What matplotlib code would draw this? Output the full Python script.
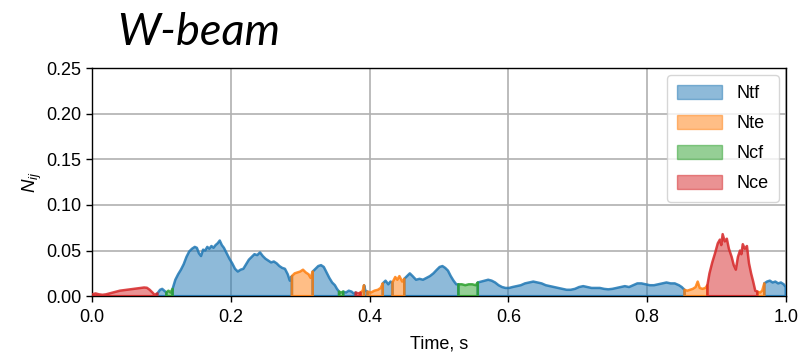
import numpy as np
import matplotlib
matplotlib.use("Agg")
import matplotlib.pyplot as plt
from matplotlib.patches import Patch

plt.rcParams["font.family"] = ["Liberation Sans", "DejaVu Sans"]
plt.rcParams["mathtext.fontset"] = "custom"
plt.rcParams["mathtext.rm"] = "Liberation Sans"
plt.rcParams["mathtext.it"] = "Liberation Sans:italic"

# Nij envelope over time; mode marks which criterion governs at each sample
time = [
    0.000, 0.005, 0.010, 0.015, 0.020, 0.025, 0.030, 0.035, 0.040, 0.045,
    0.050, 0.055, 0.060, 0.065, 0.070, 0.075, 0.079, 0.083, 0.087, 0.090,
    0.094, 0.098, 0.101, 0.104,
    0.107, 0.110, 0.113,
    0.116, 0.120, 0.124, 0.128, 0.132, 0.136, 0.140, 0.144, 0.148, 0.151,
    0.154, 0.157, 0.160, 0.163, 0.166, 0.169, 0.172, 0.175, 0.178, 0.181,
    0.184, 0.187, 0.190, 0.194, 0.198, 0.202, 0.206, 0.210, 0.214, 0.218,
    0.222, 0.226, 0.230, 0.234, 0.238, 0.242, 0.246, 0.250, 0.254, 0.258,
    0.262, 0.266, 0.270, 0.274, 0.278, 0.282, 0.285,
    0.288, 0.292, 0.296, 0.300, 0.304, 0.308, 0.312, 0.315,
    0.318, 0.322, 0.326, 0.330, 0.334, 0.338, 0.342, 0.346, 0.350, 0.353,
    0.356, 0.359,
    0.362, 0.366, 0.370, 0.374, 0.377,
    0.380, 0.384,
    0.387, 0.390,
    0.392, 0.394,
    0.397, 0.402, 0.407, 0.412, 0.416,
    0.419, 0.423, 0.427, 0.430,
    0.433, 0.437, 0.440, 0.443, 0.447,
    0.450, 0.454, 0.458, 0.462, 0.467, 0.472, 0.477, 0.482, 0.487, 0.492,
    0.497, 0.501, 0.505, 0.509, 0.513, 0.517, 0.521, 0.525,
    0.528, 0.533, 0.538, 0.543, 0.548, 0.553,
    0.556, 0.561, 0.566, 0.571, 0.576, 0.581, 0.586, 0.591, 0.596, 0.601,
    0.606, 0.612, 0.618, 0.624, 0.630, 0.636, 0.642, 0.648, 0.654, 0.660,
    0.666, 0.672, 0.678, 0.684, 0.690, 0.696, 0.702, 0.708, 0.714, 0.720,
    0.726, 0.732, 0.738, 0.744, 0.750, 0.756, 0.762, 0.768, 0.774, 0.780,
    0.786, 0.792, 0.798, 0.804, 0.810, 0.816, 0.822, 0.828, 0.834, 0.840,
    0.846, 0.850,
    0.854, 0.858, 0.862, 0.866, 0.870, 0.873, 0.876, 0.880, 0.884,
    0.887, 0.890, 0.894, 0.898, 0.902, 0.905, 0.907, 0.909, 0.912, 0.915,
    0.918, 0.922, 0.925, 0.928, 0.931, 0.934, 0.936, 0.938, 0.941, 0.944,
    0.947, 0.950, 0.953, 0.956,
    0.959, 0.963, 0.966,
    0.969, 0.973, 0.977, 0.981, 0.985, 0.989, 0.993, 0.997, 1.000,
]

nij = [
    0.002, 0.003, 0.002, 0.0015, 0.002, 0.003, 0.004, 0.005, 0.006, 0.0065,
    0.007, 0.0075, 0.008, 0.0085, 0.009, 0.0095, 0.0092, 0.007, 0.004, 0.0015,
    0.003, 0.007, 0.008, 0.006,
    0.004, 0.006, 0.004,
    0.008, 0.018, 0.024, 0.029, 0.035, 0.043, 0.049, 0.052, 0.054, 0.053,
    0.047, 0.044, 0.051, 0.050, 0.054, 0.052, 0.055, 0.053, 0.056, 0.058,
    0.061, 0.056, 0.053, 0.047, 0.041, 0.036, 0.030, 0.027, 0.029, 0.030,
    0.035, 0.040, 0.043, 0.046, 0.045, 0.048, 0.044, 0.041, 0.039, 0.037,
    0.038, 0.036, 0.033, 0.031, 0.030, 0.024, 0.017,
    0.022, 0.025, 0.026, 0.027, 0.029, 0.026, 0.024, 0.020,
    0.027, 0.030, 0.033, 0.034, 0.032, 0.026, 0.020, 0.015, 0.012, 0.008,
    0.005, 0.004,
    0.005, 0.004, 0.006, 0.005, 0.003,
    0.004, 0.003,
    0.004, 0.006,
    0.012, 0.006,
    0.005, 0.004, 0.006, 0.007, 0.009,
    0.014, 0.017, 0.013, 0.016,
    0.015, 0.021, 0.018, 0.022, 0.016,
    0.019, 0.022, 0.025, 0.022, 0.018, 0.019, 0.018, 0.020, 0.022, 0.025,
    0.029, 0.032, 0.033, 0.031, 0.028, 0.022, 0.017, 0.013,
    0.013, 0.013, 0.012, 0.013, 0.013, 0.012,
    0.015, 0.016, 0.017, 0.018, 0.017, 0.015, 0.012, 0.010, 0.009, 0.009,
    0.010, 0.011, 0.012, 0.014, 0.015, 0.016, 0.015, 0.014, 0.012, 0.011,
    0.010, 0.009, 0.008, 0.007, 0.007, 0.008, 0.010, 0.011, 0.010, 0.009,
    0.009, 0.009, 0.008, 0.0075, 0.008, 0.009, 0.010, 0.011, 0.010, 0.012,
    0.014, 0.014, 0.013, 0.012, 0.012, 0.013, 0.014, 0.015, 0.014, 0.014,
    0.012, 0.010,
    0.007, 0.006, 0.007, 0.008, 0.010, 0.016, 0.009, 0.008, 0.009,
    0.012, 0.025, 0.037, 0.047, 0.058, 0.062, 0.056, 0.068, 0.060, 0.063,
    0.052, 0.043, 0.034, 0.029, 0.043, 0.050, 0.046, 0.057, 0.052, 0.055,
    0.036, 0.025, 0.016, 0.006,
    0.005, 0.004, 0.006,
    0.014, 0.016, 0.017, 0.015, 0.016, 0.014, 0.015, 0.013, 0.010,
]

mode = (
    ["Nce"] * 20 + ["Ntf"] * 4 + ["Ncf"] * 3 + ["Ntf"] * 47 + ["Nte"] * 8
    + ["Ntf"] * 10 + ["Ncf"] * 2 + ["Ntf"] * 5 + ["Nce"] * 2 + ["Nte"] * 2
    + ["Ntf"] * 2 + ["Nte"] * 5 + ["Ntf"] * 4 + ["Nte"] * 5 + ["Ntf"] * 18
    + ["Ncf"] * 6 + ["Ntf"] * 52 + ["Nte"] * 9 + ["Nce"] * 24 + ["Nte"] * 3
    + ["Ntf"] * 9
)

criteria = ["Ntf", "Nte", "Ncf", "Nce"]
colors = ["#1f77b4", "#ff7f0e", "#2ca02c", "#d62728"]

xticks = [0.0, 0.2, 0.4, 0.6, 0.8, 1.0]
yticks = [0.00, 0.05, 0.10, 0.15, 0.20, 0.25]

t = np.asarray(time)
v = np.asarray(nij)
m = np.asarray(mode)

fig = plt.figure(figsize=(8.01, 3.53), dpi=100)
ax = fig.add_axes([0.115, 0.161, 0.866, 0.646])

for name, col in zip(criteria, colors):
    sel = m == name
    # extend each run by one sample so neighbouring runs join up
    ext = sel.copy()
    ext[1:] |= sel[:-1]
    ax.fill_between(t, 0, v, where=ext, facecolor=col, alpha=0.5,
                    edgecolor="none", zorder=2)
    ax.fill_between(t, 0, v, where=ext, facecolor="none",
                    edgecolor=col, linewidth=1.8, alpha=0.85, zorder=3)

ax.set_xlim(0, 1)
ax.set_ylim(0, 0.25)
ax.set_xticks(xticks)
ax.set_yticks(yticks)
ax.set_xticklabels([f"{x:.1f}" for x in xticks])
ax.set_yticklabels([f"{y:.2f}" for y in yticks])
ax.tick_params(labelsize=13, length=4, width=1)
ax.tick_params(axis="x", pad=5)
ax.grid(True, color="#b0b0b0", linewidth=1.2)
ax.set_axisbelow(True)
for s in ax.spines.values():
    s.set_linewidth(1.0)

ax.set_xlabel("Time, s", fontsize=13, labelpad=7)
ax.set_ylabel("$N_{ij}$", fontsize=13.5, labelpad=2)

handles = [Patch(facecolor=c, edgecolor=c, alpha=0.5) for c in colors]
ax.legend(handles, criteria, loc="upper right", fontsize=13,
          handlelength=2.5, handleheight=0.8, labelspacing=0.7,
          borderpad=0.55, borderaxespad=0.4, framealpha=0.8)

fig.text(117 / 801, 1 - 45 / 353, "W-beam", fontsize=32.5, style="italic",
         family="Lato", ha="left", va="baseline")

fig.savefig("out.png", dpi=100)
